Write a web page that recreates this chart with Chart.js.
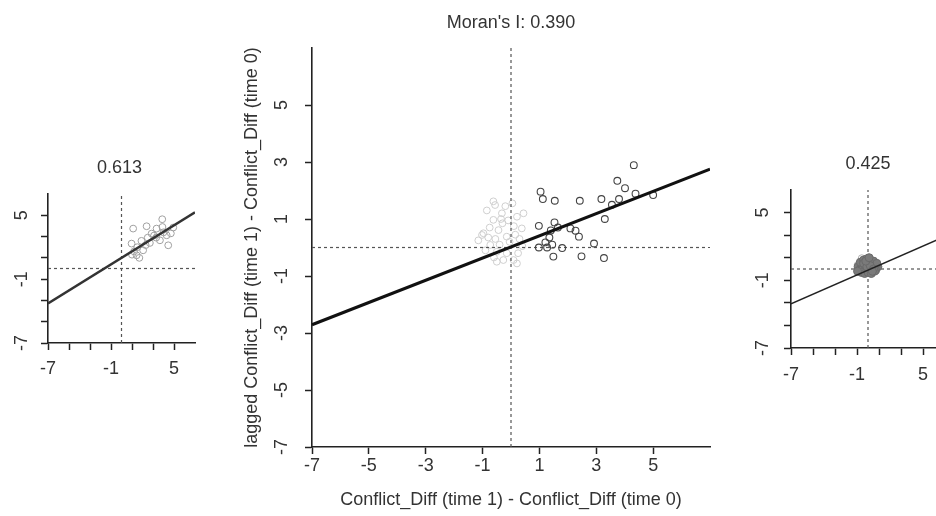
<!DOCTYPE html>
<html>
<head>
<meta charset="utf-8">
<title>Moran scatter plots</title>
<script src="https://cdn.jsdelivr.net/npm/chart.js@4.4.1/dist/chart.umd.min.js"></script>
<style>
  html, body { margin: 0; padding: 0; background: #fff; width: 936px; height: 516px; overflow: hidden; }
  canvas { position: absolute; }
  #left  { left: 0;     top: 140px; }
  #main  { left: 230px; top: 0; }
  #right { left: 740px; top: 150px; }
</style>
</head>
<body>
<canvas id="left" width="215" height="260"></canvas>
<canvas id="main" width="490" height="516"></canvas>
<canvas id="right" width="220" height="260"></canvas>
<script>
/* ---- DATA ---- */
const axisRange   = [-7, 7];
const tickValues  = [-7, -5, -3, -1, 1, 3, 5];
const mainLabels  = ['-7', '-5', '-3', '-1', '1', '3', '5'];
const smallLabels = ['-7', '', '', '-1', '', '', '5'];

const moranMain  = 0.390;
const moranLeft  = 0.613;
const moranRight = 0.425;
const interceptMain  = 0.02;
const interceptLeft  = 1.0;
const interceptRight = -0.1;

// main panel, dark circles (changed units)
const mainDarkX = [1.04, 1.12, 1.54, 2.42, 3.18, 4.32, 3.74, 4.01, 4.38, 5.00, 3.80, 3.55, 3.30, 0.98, 1.53,
                   1.40, 2.09, 2.27, 2.39, 2.92, 0.98, 1.27, 1.80, 1.49, 2.48, 3.27, 1.21, 1.35, 1.65, 1.45];
const mainDarkY = [1.96, 1.70, 1.64, 1.64, 1.70, 2.89, 2.34, 2.08, 1.89, 1.84, 1.70, 1.50, 1.00, 0.76, 0.88,
                   0.60, 0.67, 0.59, 0.38, 0.14, 0.00, 0.00, -0.02, -0.32, -0.31, -0.37, 0.18, 0.35, 0.70, 0.10];
// main panel, light circles near the origin
const mainLightX = [-0.56, -0.32, -0.62, -0.97, -0.44, -0.15, 0.21, 0.38, -0.50, -0.27, 0.09, -0.73, -1.02, -0.62,
                    -0.50, 0.21, 0.44, -0.85, -0.20, 0.05, -0.75, -0.30, 0.10, -0.05, 0.30, -0.40, -0.90, -0.60,
                    0.25, -0.15, -1.15, 0.40, -0.35, -0.80, -0.10, 0.15, -0.55];
const mainLightY = [1.49, 1.20, 0.97, 0.50, 0.61, 0.38, 1.08, 0.67, -0.15, -0.44, -0.44, 0.09, 0.44, 1.62,
                    -0.50, -0.56, 1.20, 1.30, 1.45, 1.55, 0.70, 0.85, 0.75, 0.20, 0.30, 0.10, -0.10, -0.35,
                    -0.20, -0.20, 0.25, 0.05, 1.00, 0.35, 0.95, 0.45, 0.30];

// left panel
const leftX = [1.11, 2.39, 3.88, 3.34, 4.30, 4.45, 2.87, 0.96, 1.44, 2.06, 3.66, 4.93, 1.50, 1.90, 2.50,
               3.10, 1.20, 1.70, 2.30, 3.30, 4.00, 2.70, 1.00, 3.90, 4.70];
const leftY = [3.75, 3.97, 4.63, 3.75, 3.12, 2.18, 3.28, 2.34, 1.24, 1.71, 2.65, 3.85, 2.00, 2.60, 2.90,
               3.10, 1.60, 1.00, 2.20, 2.90, 3.40, 2.40, 1.30, 3.90, 3.30];

// right panel (dense blob around the origin)
const rightX = [-0.9, -0.6, -0.3, 0.0, 0.3, 0.6, 0.9, -0.8, -0.5, -0.2, 0.1, 0.4, 0.7, -0.7, -0.4, -0.1, 0.2,
                0.5, 0.8, -0.6, -0.3, 0.0, 0.3, 0.6, -0.4, -0.1, 0.2, 0.5, -0.2, 0.1, 0.4, -0.95];
const rightY = [0.2, 0.3, 0.4, 0.5, 0.4, 0.3, 0.2, -0.1, 0.0, 0.1, 0.0, 0.1, -0.1, 0.6, 0.8, 0.9, 0.8, 0.7,
                0.5, -0.3, -0.4, -0.3, -0.4, -0.2, 0.5, 0.2, 0.3, 0.0, 0.7, 1.0, -0.2, -0.2];
const rightLightX = [-0.57, -0.95];
const rightLightY = [0.96, 0.35];

/* ---- HELPERS ---- */
const FONT = '"Liberation Sans", Arial, Helvetica, sans-serif';
const TEXT = '#333';
Chart.defaults.font.family = FONT;
Chart.defaults.font.size = 18;
Chart.defaults.color = TEXT;

const pts = (xs, ys) => xs.map((x, i) => ({ x, y: ys[i] }));
const fitLine = (slope, b) => axisRange.map(x => ({ x, y: b + slope * x }));

// titles + rotated y tick labels
const panelText = {
  id: 'panelText',
  afterDraw(chart, args, o) {
    const { ctx, chartArea, scales } = chart;
    ctx.save();
    ctx.font = '18px ' + FONT;
    ctx.fillStyle = TEXT;
    ctx.textAlign = 'center';
    ctx.textBaseline = 'middle';
    ctx.fillText(o.title, (chartArea.left + chartArea.right) / 2 + (o.titleDx || 0), o.titleY);
    scales.y.ticks.forEach((t, i) => {
      const s = o.yLabels[i];
      if (!s) return;
      ctx.save();
      ctx.translate(o.yLabelX, scales.y.getPixelForValue(t.value));
      ctx.rotate(-Math.PI / 2);
      ctx.fillText(s, 0, 0);
      ctx.restore();
    });
    ctx.restore();
  }
};

function axis(pos, size, extra) {
  return Object.assign({
    type: 'linear',
    position: pos,
    min: axisRange[0],
    max: axisRange[1],
    afterBuildTicks: s => { s.ticks = tickValues.map(v => ({ value: v })); },
    afterFit: s => { if (pos === 'bottom') s.height = size; else s.width = size; },
    grid: { drawOnChartArea: false, drawTicks: true, tickLength: 7, tickWidth: 1.5, tickColor: '#222' },
    border: { display: true, color: '#222', width: 1.6 }
  }, extra);
}

function refLines() {
  const dash = { showLine: true, pointRadius: 0, borderColor: '#555', borderWidth: 1.2, borderDash: [3, 3], order: 5 };
  return [
    Object.assign({ data: axisRange.map(y => ({ x: 0, y })) }, dash),
    Object.assign({ data: axisRange.map(x => ({ x, y: 0 })) }, dash)
  ];
}

function panel(id, cfg) {
  new Chart(document.getElementById(id), {
    type: 'scatter',
    data: { datasets: cfg.datasets },
    options: {
      responsive: false,
      animation: false,
      devicePixelRatio: 1,
      layout: { padding: cfg.padding },
      plugins: {
        legend: { display: false },
        tooltip: { enabled: false },
        panelText: cfg.text
      },
      scales: {
        x: axis('bottom', cfg.xHeight, {
          title: cfg.xTitle || { display: false },
          ticks: { autoSkip: false, maxRotation: 0, padding: cfg.xPad, color: TEXT,
                   callback: (v, i) => cfg.labels[i] }
        }),
        y: axis('left', cfg.yWidth, {
          title: cfg.yTitle || { display: false },
          ticks: { display: false }
        })
      }
    },
    plugins: [panelText]
  });
}

/* ---- PANELS ---- */
panel('main', {
  padding: { left: 0, top: 48, right: 10, bottom: 0 },
  xHeight: 69, yWidth: 82, xPad: 1, labels: mainLabels,
  xTitle: { display: true, text: 'Conflict_Diff (time 1) - Conflict_Diff (time 0)', color: TEXT,
            font: { size: 18 }, padding: { top: 0, bottom: 5 } },
  yTitle: { display: true, text: 'lagged Conflict_Diff (time 1) - Conflict_Diff (time 0)', color: TEXT,
            font: { size: 18 }, padding: { top: 11, bottom: 0 } },
  text: { title: "Moran's I: " + moranMain.toFixed(3), titleY: 23, yLabelX: 52, yLabels: mainLabels },
  datasets: [
    { data: fitLine(moranMain, interceptMain), showLine: true, pointRadius: 0, borderColor: '#111', borderWidth: 3, order: 0 },
    { data: pts(mainDarkX, mainDarkY), pointRadius: 3.4, borderWidth: 1.1, borderColor: '#444', backgroundColor: 'rgba(0,0,0,0)', order: 1 },
    { data: pts(mainLightX, mainLightY), pointRadius: 3.4, borderWidth: 1, borderColor: '#cfcfcf', backgroundColor: 'rgba(0,0,0,0)', order: 6 },
    ...refLines()
  ]
});

panel('left', {
  padding: { left: 0, top: 54, right: 20, bottom: 0 },
  xHeight: 57, yWidth: 48, xPad: 8, labels: smallLabels,
  text: { title: moranLeft.toFixed(3), titleDx: -2, titleY: 28, yLabelX: 22, yLabels: smallLabels },
  datasets: [
    { data: fitLine(moranLeft, interceptLeft), showLine: true, pointRadius: 0, borderColor: '#333', borderWidth: 2.5, order: 0 },
    { data: pts(leftX, leftY), pointRadius: 3.4, borderWidth: 1, borderColor: '#a0a0a0', backgroundColor: 'rgba(0,0,0,0)', order: 1 },
    ...refLines()
  ]
});

panel('right', {
  padding: { left: 0, top: 40, right: 15, bottom: 0 },
  xHeight: 62, yWidth: 51, xPad: 9, labels: smallLabels,
  text: { title: moranRight.toFixed(3), titleY: 14, yLabelX: 23, yLabels: smallLabels },
  datasets: [
    { data: fitLine(moranRight, interceptRight), showLine: true, pointRadius: 0, borderColor: '#222', borderWidth: 1.5, order: 0 },
    { data: pts(rightX, rightY), pointRadius: 4, borderWidth: 1, borderColor: '#6a6a6a', backgroundColor: '#7a7a7a', order: 1 },
    { data: pts(rightLightX, rightLightY), pointRadius: 3.4, borderWidth: 1, borderColor: '#b0b0b0', backgroundColor: 'rgba(0,0,0,0)', order: 2 },
    ...refLines()
  ]
});
</script>
</body>
</html>
